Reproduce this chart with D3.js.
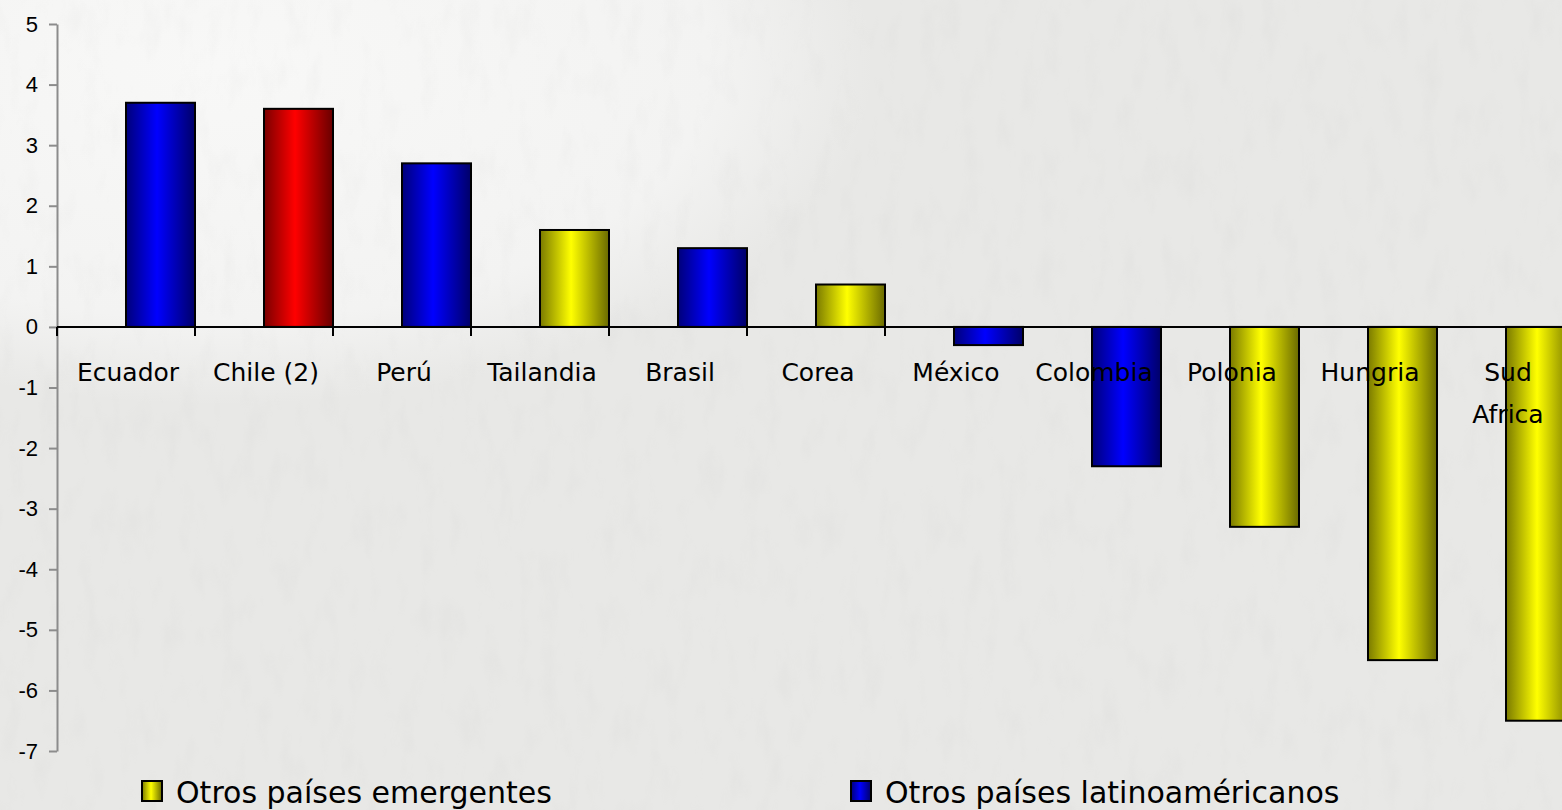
<!DOCTYPE html>
<html>
<head>
<meta charset="utf-8">
<script src="https://cdn.jsdelivr.net/npm/d3@7"></script>
<style>
  html, body { margin: 0; padding: 0; overflow: hidden; }
  body { width: 1562px; height: 810px; }
</style>
</head>
<body>
<svg id="chart"></svg>
<script>
// categories, values and group of each bar (one bar per country)
var paises = ["Ecuador", "Chile (2)", "Perú", "Tailandia", "Brasil", "Corea",
              "México", "Colombia", "Polonia", "Hungria", "Sud Africa"];
var valores = [3.7, 3.6, 2.7, 1.6, 1.3, 0.7, -0.3, -2.3, -3.3, -5.5, -6.5];
var grupos = ["latino", "chile", "latino", "emergente", "latino", "emergente",
              "latino", "latino", "emergente", "emergente", "emergente"];
var yTicks = [5, 4, 3, 2, 1, 0, -1, -2, -3, -4, -5, -6, -7];
var leyenda = [
  {grupo: "emergente", texto: "Otros países emergentes"},
  {grupo: "latino", texto: "Otros países latinoaméricanos"}
];

var width = 1562;
var height = 810;

// gradient stops: edge, middle, edge
var colores = {
  latino: ["#00007a", "#0000ff", "#000068"],
  chile: ["#7a0000", "#ff0000", "#680000"],
  emergente: ["#7a7a00", "#ffff00", "#6a6a00"]
};

var svg = d3.select("#chart")
    .attr("width", width)
    .attr("height", height);

var defs = svg.append("defs");

// paper-ish background
var bgGrad = defs.append("radialGradient")
    .attr("id", "bgLight")
    .attr("cx", 0.14).attr("cy", 0.08).attr("r", 0.42);
bgGrad.append("stop").attr("offset", "0%").attr("stop-color", "#f8f8f7");
bgGrad.append("stop").attr("offset", "75%").attr("stop-color", "#f3f3f2");
bgGrad.append("stop").attr("offset", "100%").attr("stop-color", "#f3f3f2").attr("stop-opacity", 0);

var noise = defs.append("filter").attr("id", "noise")
    .attr("x", 0).attr("y", 0).attr("width", "100%").attr("height", "100%");
noise.append("feTurbulence")
    .attr("type", "fractalNoise")
    .attr("baseFrequency", "0.05 0.02")
    .attr("numOctaves", 3)
    .attr("seed", 7);
noise.append("feColorMatrix")
    .attr("type", "matrix")
    .attr("values", "0 0 0 0 0.45  0 0 0 0 0.45  0 0 0 0 0.44  0 0 0 -1.2 0.6");

svg.append("rect")
    .attr("width", width).attr("height", height)
    .attr("fill", "#e8e8e6");
svg.append("rect")
    .attr("width", width).attr("height", height)
    .attr("fill", "url(#bgLight)");
svg.append("rect")
    .attr("width", width).attr("height", height)
    .attr("filter", "url(#noise)")
    .attr("opacity", 0.13);

Object.keys(colores).forEach(function(k){
  var g = defs.append("linearGradient")
      .attr("id", "grad-" + k)
      .attr("x1", "0%").attr("x2", "100%")
      .attr("y1", "0%").attr("y2", "0%");
  g.append("stop").attr("offset", "0%").attr("stop-color", colores[k][0]);
  g.append("stop").attr("offset", "45%").attr("stop-color", colores[k][1]);
  g.append("stop").attr("offset", "100%").attr("stop-color", colores[k][2]);
});

// scales
var x = d3.scaleBand()
    .domain(paises)
    .range([57, 57 + 138 * paises.length])
    .padding(0);
var bw = x.bandwidth();

var y = d3.scaleLinear()
    .domain([-7, 5])
    .range([751, 24]);

// y axis
var yAxis = svg.append("g")
    .attr("transform", "translate(57,0)")
    .call(d3.axisLeft(y)
      .tickValues(yTicks)
      .tickFormat(d3.format("d"))
      .tickSize(8)
      .tickSizeOuter(0)
      .tickPadding(11));
yAxis.attr("font-size", 22).attr("font-family", "Liberation Sans, Arial, sans-serif");
yAxis.select(".domain").attr("stroke", "#8c8c8c").attr("stroke-width", 2);
yAxis.selectAll(".tick line").attr("stroke", "#8c8c8c").attr("stroke-width", 2);
yAxis.selectAll(".tick text")
    .attr("fill", "#000")
    .style("font-size", "22px")
    .text(function(d){ return d < 0 ? "-" + Math.abs(d) : d; });

// bars
svg.append("g")
  .selectAll("rect")
  .data(paises)
  .join("rect")
    .attr("x", function(d){ return x(d) + bw / 2; })
    .attr("width", bw / 2)
    .attr("y", function(d, i){ return y(Math.max(0, valores[i])); })
    .attr("height", function(d, i){ return Math.abs(y(valores[i]) - y(0)); })
    .attr("fill", function(d, i){ return "url(#grad-" + grupos[i] + ")"; })
    .attr("stroke", "#000")
    .attr("stroke-width", 2);

// zero line with category ticks
svg.append("line")
    .attr("x1", 57).attr("x2", width)
    .attr("y1", y(0)).attr("y2", y(0))
    .attr("stroke", "#000").attr("stroke-width", 2);

var bordes = [57].concat(paises.map(function(d){ return x(d) + bw; }));
svg.append("g")
  .selectAll("line")
  .data(bordes)
  .join("line")
    .attr("x1", function(d){ return d; })
    .attr("x2", function(d){ return d; })
    .attr("y1", y(0))
    .attr("y2", y(0) + 9)
    .attr("stroke", "#000")
    .attr("stroke-width", 2);

// category labels
var etiquetas = svg.append("g")
    .attr("font-family", "DejaVu Sans, sans-serif")
    .attr("font-size", 25)
    .attr("text-anchor", "middle")
    .attr("fill", "#000")
  .selectAll("text")
  .data(paises)
  .join("text")
    .attr("x", function(d){ return x(d) + bw / 2 + 2; })
    .attr("y", 381)
    .text(function(d){ return d; });

// wrap labels that would run past the page edge
etiquetas.each(function(d){
  var t = d3.select(this);
  var box = this.getBBox();
  if (box.x + box.width > width - 4 && d.indexOf(" ") > 0) {
    var palabras = d.split(" ");
    var cx = +t.attr("x");
    t.text(null);
    palabras.forEach(function(p, i){
      t.append("tspan")
          .attr("x", cx)
          .attr("dy", i === 0 ? 0 : 42)
          .text(p);
    });
  }
});

// legend
var leg = svg.append("g")
    .attr("font-family", "DejaVu Sans, sans-serif")
    .attr("font-size", 30)
    .attr("fill", "#000");
var legX = [142, 851];
leyenda.forEach(function(l, i){
  leg.append("rect")
      .attr("x", legX[i]).attr("y", 781)
      .attr("width", 20).attr("height", 20)
      .attr("fill", "url(#grad-" + l.grupo + ")")
      .attr("stroke", "#000")
      .attr("stroke-width", 2);
  leg.append("text")
      .attr("x", legX[i] + 34)
      .attr("y", 803)
      .text(l.texto);
});
</script>
</body>
</html>
